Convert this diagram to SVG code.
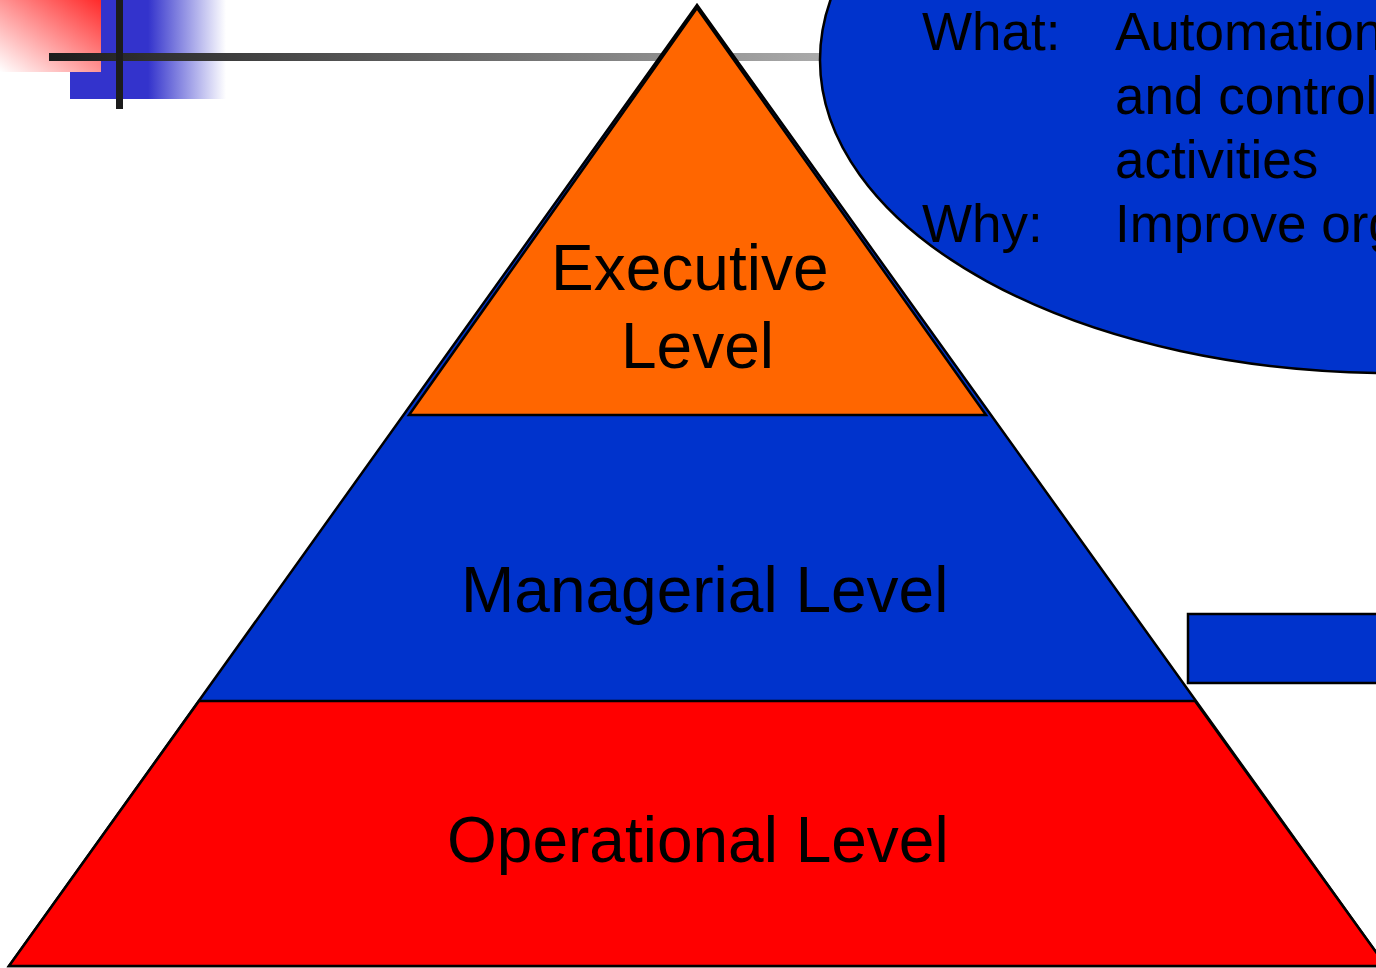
<svg xmlns="http://www.w3.org/2000/svg" width="1376" height="968" viewBox="0 0 1376 968">
<defs>
<linearGradient id="gRed" x1="1" y1="0" x2="0" y2="1">
<stop offset="0" stop-color="#ff2a2a"/>
<stop offset="1" stop-color="#ffffff"/>
</linearGradient>
<linearGradient id="gBlue" x1="0" y1="0" x2="1" y2="0">
<stop offset="0" stop-color="#3333cc"/>
<stop offset="0.5" stop-color="#3333cc"/>
<stop offset="1" stop-color="#ffffff"/>
</linearGradient>
<linearGradient id="gLine" x1="0" y1="0" x2="1" y2="0">
<stop offset="0" stop-color="#1c1c1c"/>
<stop offset="1" stop-color="#ababab"/>
</linearGradient>
</defs>
<style>
.lvl{font-family:"Liberation Sans",Arial,sans-serif;font-size:64px;fill:#000}
.ell{font-family:"Liberation Sans",Arial,sans-serif;font-size:53px;fill:#000}
.shape{stroke:#000;stroke-width:2.5;stroke-linejoin:miter}
</style>
<g id="decor">
<rect x="70" y="0" width="156" height="99" fill="url(#gBlue)"/>
<rect x="0" y="0" width="101" height="72" fill="url(#gRed)"/>
<rect x="49" y="53" width="775" height="8" fill="url(#gLine)"/>
<rect x="116" y="0" width="7" height="109" fill="#1c1c1c"/>
</g>
<g id="pyramid">
<polygon class="shape" points="697,5 9,966 1386,966" fill="#0033cc"/>
</g>
<g id="executive">
<polygon class="shape" points="697,8 409,415 986,415" fill="#ff6600"/>
<text class="lvl" x="551" y="290">Executive</text>
<text class="lvl" x="621" y="368">Level</text>
</g>
<g id="managerial">
<text class="lvl" x="461" y="612">Managerial Level</text>
</g>
<g id="operational">
<polygon class="shape" points="199,701 1195,701 1386,966 9,966" fill="#ff0000"/>
<text class="lvl" x="447" y="862">Operational Level</text>
</g>
<g id="info">
<ellipse class="shape" cx="1390" cy="60" rx="570" ry="313" fill="#0033cc"/>
<text class="ell" x="922" y="50">What:</text>
<text class="ell" x="1115" y="50">Automation</text>
<text class="ell" x="1115" y="114">and control</text>
<text class="ell" x="1115" y="178">activities</text>
<text class="ell" x="922" y="242">Why:</text>
<text class="ell" x="1115" y="242">Improve org</text>
</g>
<g id="box">
<rect class="shape" x="1188" y="614" width="200" height="69" fill="#0033cc"/>
</g>
<g id="connectors"></g>
</svg>
